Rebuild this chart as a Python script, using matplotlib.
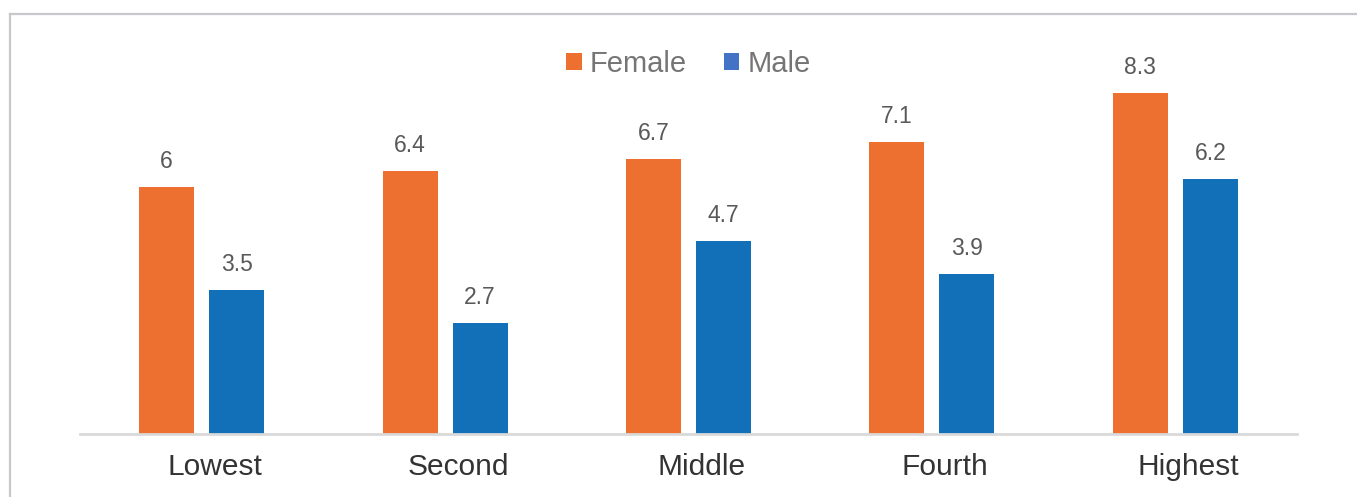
import matplotlib
matplotlib.use("Agg")
import matplotlib.pyplot as plt
from matplotlib.patches import Patch
from matplotlib.lines import Line2D
from matplotlib.transforms import ScaledTranslation
import numpy as np

categories = ["Lowest", "Second", "Middle", "Fourth", "Highest"]
female = [6.0, 6.4, 6.7, 7.1, 8.3]
male = [3.5, 2.7, 4.7, 3.9, 6.2]
female_labels = ["6", "6.4", "6.7", "7.1", "8.3"]
male_labels = ["3.5", "2.7", "4.7", "3.9", "6.2"]

ORANGE = "#ED7031"
BLUE = "#1170B8"
LEGEND_BLUE = "#4472C4"

plt.rcParams["font.family"] = ["Liberation Sans", "DejaVu Sans"]

W, H = 1357, 497
fig = plt.figure(figsize=(W / 100, H / 100), dpi=100)

# axes placement in pixels
left, right, bottom, top = 80, 1297, 434, 23
ax = fig.add_axes([left / W, 1 - bottom / H, (right - left) / W, (bottom - top) / H])

x = np.arange(len(categories))
bw = 0.226
off = 0.144
ax.bar(x - off, female, bw, color=ORANGE)
ax.bar(x + off, male, bw, color=BLUE)

for xi, v, lab in zip(x - off, female, female_labels):
    ax.annotate(lab, (xi, v), xytext=(0, 13.7), textcoords="offset points",
                ha="center", va="baseline", fontsize=16.5, color="#595959")
for xi, v, lab in zip(x + off, male, male_labels):
    ax.annotate(lab, (xi, v), xytext=(0, 13.7), textcoords="offset points",
                ha="center", va="baseline", fontsize=16.5, color="#595959")

ax.set_xlim(-0.5, 4.5)
ax.set_ylim(0, 10)
ax.set_xticks(x)
ax.set_xticklabels(categories, fontsize=21.5, color="#333333")
ax.tick_params(axis="x", length=0, pad=14)
shift = ScaledTranslation(13 / 100, 0, fig.dpi_scale_trans)
for lab in ax.get_xticklabels():
    lab.set_transform(lab.get_transform() + shift)
ax.set_yticks([])
for s in ["top", "right", "left"]:
    ax.spines[s].set_visible(False)
ax.spines["bottom"].set_color("#D9D9D9")
ax.spines["bottom"].set_linewidth(2)

handles = [Patch(facecolor=ORANGE, edgecolor="none", label="Female"),
           Patch(facecolor=LEGEND_BLUE, edgecolor="none", label="Male")]
leg = ax.legend(handles=handles, loc="center", bbox_to_anchor=(0.5, (bottom - 64) / (bottom - top)),
                ncol=2, frameon=False, fontsize=21, handlelength=0.52, handleheight=0.52,
                handletextpad=0.28, columnspacing=1.27, borderaxespad=0)
for t in leg.get_texts():
    t.set_color("#757575")

# outer frame (top and left edges)
fig.add_artist(Line2D([10 / W, 1], [1 - 14 / H, 1 - 14 / H], transform=fig.transFigure,
                      color="#C8C8CC", linewidth=1.6))
fig.add_artist(Line2D([10 / W, 10 / W], [0, 1 - 14 / H], transform=fig.transFigure,
                      color="#C8C8CC", linewidth=1.6))

fig.savefig("out.png", dpi=100)
